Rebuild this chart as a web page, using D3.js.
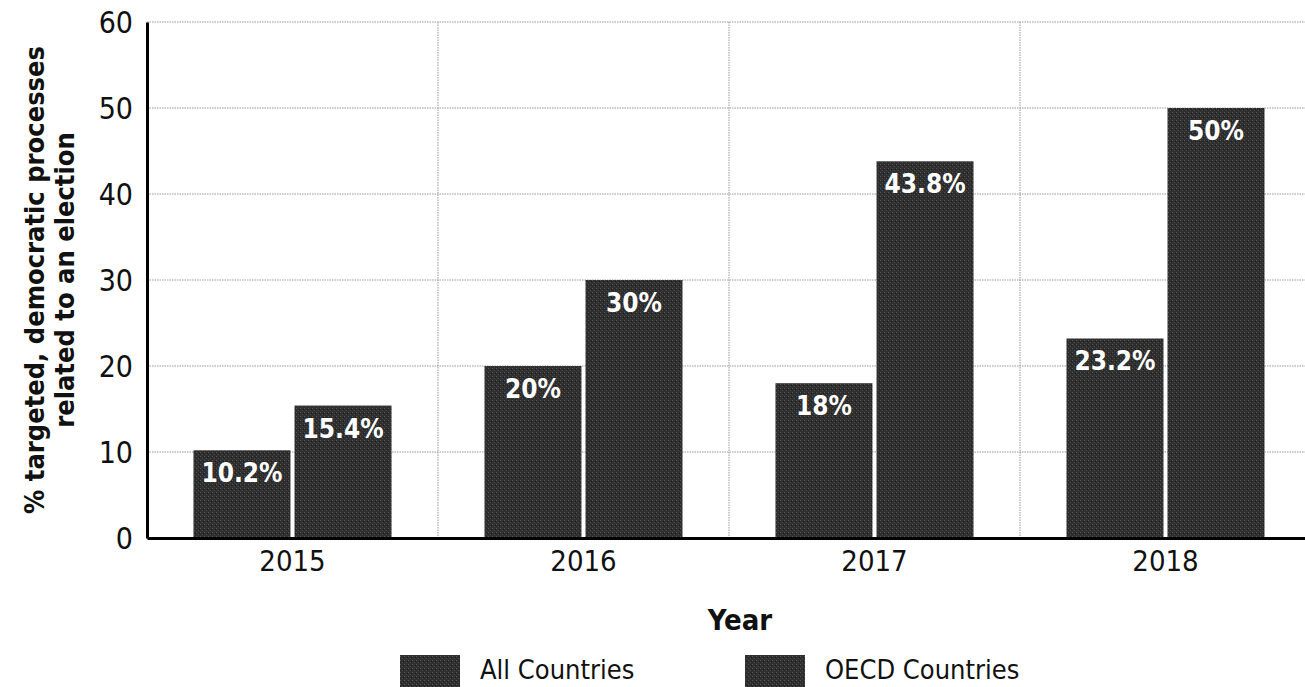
<!DOCTYPE html>
<html><head><meta charset="utf-8">
<script src="https://cdn.jsdelivr.net/npm/d3@7"></script>
<style>body{margin:0;background:#fff}svg{display:block}</style>
</head><body>
<svg id="c" width="1305" height="687"></svg>
<script>
const years = ["2015","2016","2017","2018"];
const seriesNames = ["All Countries","OECD Countries"];
const allCountries = [10.2, 20, 18, 23.2];
const oecdCountries = [15.4, 30, 43.8, 50];
const valueLabels = [["10.2%","20%","18%","23.2%"],["15.4%","30%","43.8%","50%"]];
const yTicks = [0,10,20,30,40,50,60];

const svg = d3.select("#c");
const m = {l:147, t:22, r:1311, b:538};
const x = d3.scaleBand().domain(years).range([m.l, m.r]).paddingInner(0).paddingOuter(0);
const xs = d3.scaleBand().domain(seriesNames).range([0, x.bandwidth()]).paddingOuter(0.46).paddingInner(0.04);
const y = d3.scaleLinear().domain([0,60]).range([m.b, m.t]);
const font = "'DejaVu Sans Condensed','Liberation Sans Narrow',sans-serif";

const defs = svg.append("defs");
const pat = defs.append("pattern").attr("id","grain").attr("width",4).attr("height",4).attr("patternUnits","userSpaceOnUse");
pat.append("rect").attr("width",4).attr("height",4).attr("fill","#2f2f2f");
pat.append("rect").attr("x",0).attr("y",0).attr("width",1).attr("height",1).attr("fill","#555");
pat.append("rect").attr("x",2).attr("y",2).attr("width",1).attr("height",1).attr("fill","#4a4a4a");
pat.append("rect").attr("x",3).attr("y",1).attr("width",1).attr("height",1).attr("fill","#1c1c1c");

// horizontal grid
svg.append("g").selectAll("line").data(yTicks.filter(d=>d>0)).join("line")
  .attr("x1",m.l).attr("x2",1305).attr("y1",d=>y(d)).attr("y2",d=>y(d))
  .attr("stroke","#999").attr("stroke-width",1).attr("stroke-dasharray","1.5,1");
// vertical grid at category boundaries
svg.append("g").selectAll("line").data(years.slice(1)).join("line")
  .attr("x1",d=>x(d)).attr("x2",d=>x(d)).attr("y1",m.t).attr("y2",m.b)
  .attr("stroke","#999").attr("stroke-width",1).attr("stroke-dasharray","1.5,1");

const series = [allCountries, oecdCountries];
series.forEach((vals, si) => {
  const g = svg.append("g");
  g.selectAll("rect").data(vals).join("rect")
    .attr("x",(d,i)=>x(years[i]) + xs(seriesNames[si]))
    .attr("y",d=>y(d)).attr("width",xs.bandwidth()).attr("height",d=>y(0)-y(d))
    .attr("fill","url(#grain)");
  g.selectAll("text").data(vals).join("text")
    .attr("x",(d,i)=>x(years[i]) + xs(seriesNames[si]) + xs.bandwidth()/2)
    .attr("y",d=>y(d)+32).attr("text-anchor","middle")
    .attr("fill","#fff").attr("font-family",font).attr("font-weight","bold").attr("font-size",26)
    .text((d,i)=>valueLabels[si][i]);
});

// axes
const ya = svg.append("g").attr("transform",`translate(${m.l},0)`)
  .call(d3.axisLeft(y).tickValues(yTicks).tickSize(0).tickPadding(14));
ya.select(".domain").attr("stroke","#000").attr("stroke-width",3);
ya.selectAll("text").attr("font-family",font).attr("font-size",30).attr("fill","#111").attr("dy","0.35em");

const xa = svg.append("g").attr("transform",`translate(0,${m.b})`)
  .call(d3.axisBottom(x).tickSize(0).tickPadding(12));
xa.select(".domain").attr("stroke","#000").attr("stroke-width",3);
xa.selectAll("text").attr("font-family",font).attr("font-size",29).attr("fill","#111");

// titles
svg.append("text").attr("x",740).attr("y",630).attr("text-anchor","middle")
  .attr("font-family",font).attr("font-weight","bold").attr("font-size",29).attr("fill","#111").text("Year");
const yt = svg.append("text").attr("transform","translate(0,280) rotate(-90)").attr("text-anchor","middle")
  .attr("font-family",font).attr("font-weight","bold").attr("font-size",27).attr("fill","#111");
yt.append("tspan").attr("x",0).attr("y",44).text("% targeted, democratic processes");
yt.append("tspan").attr("x",0).attr("y",74).text("related to an election");

// legend
const legX = [400, 745];
seriesNames.forEach((n,i)=>{
  svg.append("rect").attr("x",legX[i]).attr("y",655).attr("width",60).attr("height",32).attr("fill","url(#grain)");
  svg.append("text").attr("x",legX[i]+80).attr("y",679).attr("font-family",font).attr("font-size",27).attr("fill","#111").text(n);
});
</script>
</body></html>
